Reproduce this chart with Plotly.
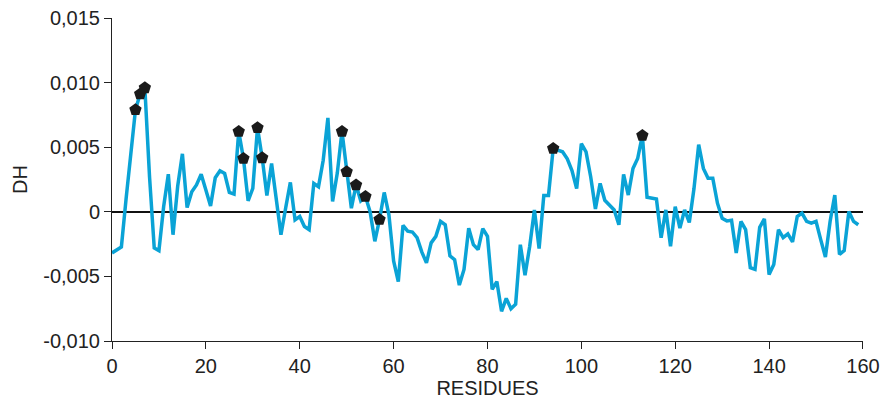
import plotly.graph_objects as go

residues = list(range(0, 160))
dh_milli = [
    -3.18, -2.95, -2.72, 1.0, 4.2, 7.9, 9.13, 9.6, 2.7, -2.8,
    -3.0, 0.4, 2.92, -1.77, 2.0, 4.49, 0.33, 1.56, 2.08, 2.92,
    1.7, 0.46, 2.64, 3.18, 2.97, 1.51, 1.38, 6.23, 4.13, 0.85,
    1.82, 6.51, 4.18, 1.26, 3.74, 1.2, -1.77, 0.3, 2.28, -0.62,
    -0.36, -1.13, -1.38, 2.2, 1.95, 4.0, 7.28, 0.8, 3.0, 6.23,
    3.1, 0.28, 2.08, 0.85, 1.18, 0.0, -2.28, -0.59, 1.5, -0.23,
    -3.8, -5.4, -1.05, -1.5, -1.56, -2.0, -3.1, -3.95, -2.4, -1.9,
    -0.74, -1.0, -3.4, -3.7, -5.67, -4.46, -1.26, -2.54, -2.92, -1.3,
    -1.9, -6.0, -5.4, -7.7, -6.7, -7.5, -7.15, -2.54, -4.9, -2.67,
    0.15, -2.85, 1.26, 1.26, 4.9, 4.8, 4.65, 4.1, 3.2, 1.8,
    5.28, 4.64, 2.7, 0.23, 2.2, 0.9, 0.54, 0.15, -1.0, 2.9,
    1.3, 3.36, 4.13, 5.92, 1.13, 1.05, 1.0, -2.0, 0.15, -2.67,
    0.4, -1.26, 0.15, -0.82, 1.8, 5.2, 3.36, 2.6, 2.6, 0.67,
    -0.5, -0.7, -0.65, -3.18, -0.74, -1.38, -4.33, -4.46, -1.2, -0.54,
    -4.85, -4.08, -1.38, -2.0, -1.7, -2.33, -0.36, -0.1, -0.74, -0.87,
    -0.74, -2.15, -3.5, -0.74, 1.3, -3.3, -3.0, 0.03, -0.74, -1.0,
]
dh = [v / 1000.0 for v in dh_milli]

marked_residues = [5, 6, 7, 27, 28, 31, 32, 49, 50, 52, 54, 57, 94, 113]
marked_dh = [dh[r] for r in marked_residues]

y_tickvals = [-0.010, -0.005, 0.0, 0.005, 0.010, 0.015]
y_ticktext = ["-0,010", "-0,005", "0", "0,005", "0,010", "0,015"]
x_tickvals = [0, 20, 40, 60, 80, 100, 120, 140, 160]

fig = go.Figure()
fig.add_trace(go.Scatter(
    x=residues, y=dh, mode="lines",
    line=dict(color="#0AA3D6", width=3.5),
    showlegend=False, hoverinfo="skip",
))
fig.add_trace(go.Scatter(
    x=marked_residues, y=marked_dh, mode="markers",
    marker=dict(symbol="pentagon", size=13, color="#1a1a1a"),
    showlegend=False, hoverinfo="skip",
))

font_family = "Liberation Sans, Arial, sans-serif"
fig.update_layout(
    width=880, height=400,
    margin=dict(l=112, r=17, t=18, b=59),
    plot_bgcolor="white", paper_bgcolor="white",
    font=dict(family=font_family, size=20, color="#222222"),
    xaxis=dict(
        range=[0, 160.01], tickvals=x_tickvals, automargin=False,
        ticklabeloverflow="allow",
        showline=True, linecolor="#222222", linewidth=1,
        ticks="outside", ticklen=7, tickcolor="#222222",
        showgrid=False, zeroline=False,
        title=dict(text="RESIDUES", standoff=4, font=dict(size=20)),
    ),
    yaxis=dict(
        range=[-0.010, 0.01501], tickvals=y_tickvals, ticktext=y_ticktext,
        automargin=False, ticklabeloverflow="allow",
        showline=True, linecolor="#222222", linewidth=1,
        ticks="outside", ticklen=7, tickcolor="#222222",
        showgrid=False,
        zeroline=True, zerolinecolor="#111111", zerolinewidth=1.5,
        title=dict(text="DH", standoff=10, font=dict(size=20)),
    ),
)

fig.write_html(
    "out.html",
    config={"displayModeBar": False, "staticPlot": True},
    post_script="document.body.style.margin='0';document.body.style.overflow='hidden';",
)
